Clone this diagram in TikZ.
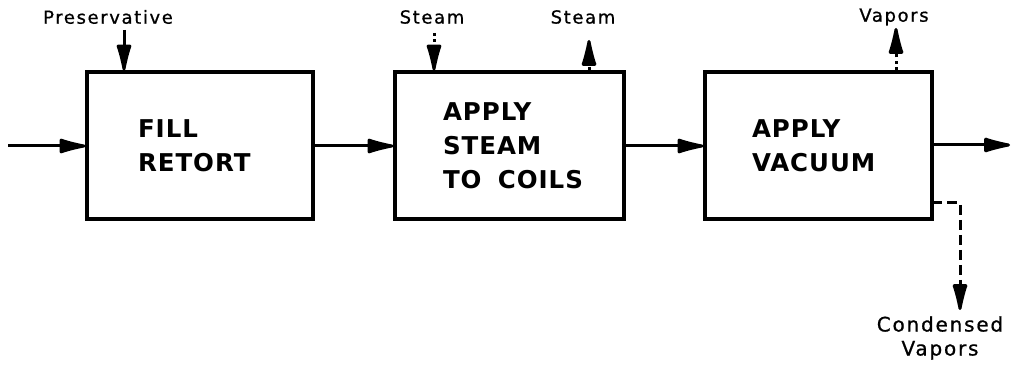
\documentclass[tikz,border=0pt]{standalone}
\usepackage{fontspec}
\setmainfont{DejaVu Sans}
\newfontfamily\lblfont[LetterSpace=9,FakeBold=0.8]{DejaVu Sans}
\newfontfamily\procfont[LetterSpace=4]{DejaVu Sans}
\usetikzlibrary{arrows.meta}
\begin{document}
\begin{tikzpicture}[x=1pt,y=-1pt,
  proc/.style={draw,line width=3.2pt,minimum height=147pt,inner sep=0pt,
    align=left,font=\procfont\bfseries\fontsize{24.5}{34}\selectfont},
  lbl/.style={inner sep=0pt,align=center,font=\lblfont\fontsize{18}{23}\selectfont},
  tip/.style={-{Latex[length=34pt,width=16pt,round]}},
  flow/.style={line width=3pt,tip},
  dotline/.style={line width=3pt,tip,dash pattern=on 3pt off 3.5pt},
  dashline/.style={line width=3pt,tip,dash pattern=on 10pt off 5pt}]
\useasboundingbox (0,0) rectangle (1018,371);
% process boxes
\node[proc,minimum width=226pt,text width=124pt] (b1) at (200,145.5) {FILL\\RETORT};
\node[proc,minimum width=229pt,text width=133pt] (b2) at (509.5,145.5) {APPLY\\STEAM\\\mbox{TO\ \ COILS}};
\node[proc,minimum width=227pt,text width=133pt] (b3) at (818.5,145.5) {APPLY\\VACUUM};
% labels
\node[lbl] (pres) at (108,17) {Preservative};
\node[lbl] (st1) at (432,17) {Steam};
\node[lbl] (st2) at (583,17) {Steam};
\node[lbl] (vap) at (894,17) {Vapors};
\node[lbl,font=\lblfont\fontsize{20}{24}\selectfont] (cond) at (940,338) {Condensed\\Vapors};
% free ends
\coordinate (in) at (8,146);
\coordinate (out) at (1010,145);
\coordinate (p1) at (124,30);
\coordinate (s1) at (434,33);
\coordinate (s2x) at (589,40);
\coordinate (vx) at (896,28);
\coordinate (cstart) at (932,203);
\coordinate (cbend) at (960,203);
\coordinate (cend) at (960,310);
% main flow
\draw[flow] (in) -- (in -| b1.west);
\draw[flow] (b1.east |- in) -- (b2.west |- in);
\draw[flow] (b2.east |- in) -- (b3.west |- in);
\draw[flow] (b3.east |- out) -- (out);
% side streams
\draw[flow] (p1) -- (p1 |- b1.north);
\draw[dotline] (s1) -- (s1 |- b2.north);
\draw[dotline] (s2x |- b2.north) -- (s2x);
\draw[dotline] (vx |- b3.north) -- (vx);
\draw[dashline] (cstart) -- (cbend) -- (cend);
\end{tikzpicture}
\end{document}
